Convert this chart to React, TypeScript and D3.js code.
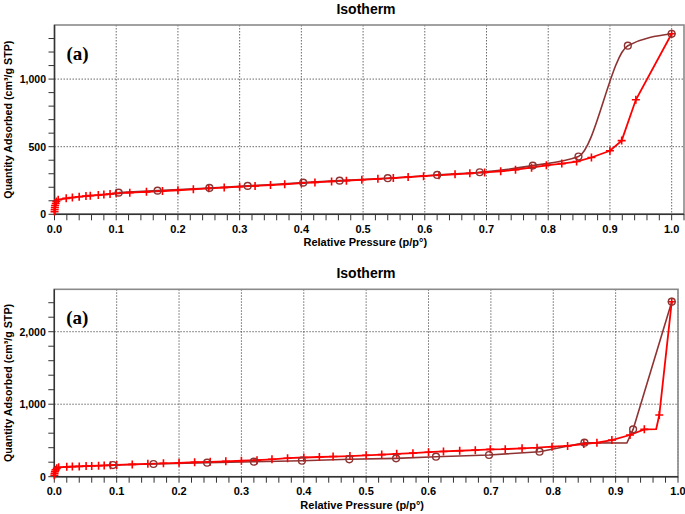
import React from "react";
import * as d3 from "d3";

const W = 685;
const H = 514;
const FONT = "'Liberation Sans', Arial, sans-serif";
const SERIF = "'Liberation Serif', 'Times New Roman', Times, serif";
const RED = "#ff0000";
const BROWN = "#8e3232";

// x tick labels shared by both panels
const xTickValues = [0, 0.1, 0.2, 0.3, 0.4, 0.5, 0.6, 0.7, 0.8, 0.9, 1.0];

// panel 1
const p1YTicks = [0, 500, 1000];
const p1AdsP = [0.0001, 0.0003, 0.0006, 0.001, 0.002, 0.003, 0.006, 0.019, 0.029, 0.04, 0.051, 0.058, 0.071, 0.08, 0.09, 0.1, 0.122, 0.149, 0.175, 0.2, 0.225, 0.25, 0.275, 0.3, 0.325, 0.35, 0.373, 0.4, 0.422, 0.449, 0.473, 0.498, 0.524, 0.549, 0.573, 0.598, 0.623, 0.649, 0.673, 0.697, 0.723, 0.747, 0.773, 0.797, 0.822, 0.846, 0.87, 0.9, 0.919, 0.942, 1.0];
const p1AdsQ = [20, 35, 50, 65, 80, 95, 108, 118, 124, 130, 135, 138, 142, 146, 150, 155, 160, 166, 172, 178, 185, 192, 198, 204, 210, 216, 222, 230, 236, 243, 249, 255, 262, 268, 275, 282, 289, 296, 303, 310, 318, 330, 345, 362, 375, 390, 420, 470, 545, 847, 1335];
const p1DesP = [0.104, 0.167, 0.251, 0.313, 0.403, 0.462, 0.54, 0.62, 0.689, 0.775, 0.849, 0.929, 1.0];
const p1DesQ = [160, 175, 195, 210, 234, 249, 267, 291, 311, 360, 427, 1247, 1335];

// panel 2
const p2YTicks = [0, 1000, 2000];
const p2AdsP = [0.0001, 0.0004, 0.001, 0.002, 0.004, 0.007, 0.02, 0.029, 0.04, 0.051, 0.06, 0.071, 0.08, 0.09, 0.1, 0.125, 0.15, 0.175, 0.2, 0.225, 0.25, 0.275, 0.3, 0.325, 0.349, 0.374, 0.4, 0.425, 0.447, 0.474, 0.5, 0.525, 0.549, 0.575, 0.6, 0.624, 0.65, 0.675, 0.699, 0.723, 0.75, 0.774, 0.798, 0.823, 0.849, 0.87, 0.894, 0.923, 0.946, 0.965, 0.97, 0.99];
const p2AdsQ = [20, 45, 70, 95, 115, 130, 136, 139, 142, 146, 149, 152, 155, 158, 162, 170, 177, 185, 192, 199, 205, 212, 220, 228, 240, 255, 265, 272, 278, 285, 295, 305, 315, 325, 338, 348, 358, 366, 377, 380, 391, 400, 414, 425, 451, 469, 506, 575, 653, 655, 851, 2414];
const p2AdsUnmarked = [0.965];
const p2DesP = [0.094, 0.159, 0.245, 0.32, 0.397, 0.473, 0.548, 0.612, 0.697, 0.778, 0.85, 0.918, 0.928, 0.99];
const p2DesQ = [161, 175, 193, 207, 221, 240, 253, 276, 299, 345, 469, 465, 653, 2414];
const p2DesUnmarked = [0.918];

type PanelProps = {
  top: number;
  bottom: number;
  left: number;
  right: number;
  xMax: number;
  yMax: number;
  yTicks: number[];
  yMinorStep: number;
  adsP: number[];
  adsQ: number[];
  desP: number[];
  desQ: number[];
  adsUnmarked?: number[];
  desUnmarked?: number[];
  smoothDes: boolean;
};

function Panel(props: PanelProps) {
  const { top, bottom, left, right, xMax, yMax, yTicks, yMinorStep } = props;
  const x = d3.scaleLinear().domain([0, xMax]).range([left, right]);
  const y = d3.scaleLinear().domain([0, yMax]).range([bottom, top]);

  const xMinor = d3.range(0, xMax + 1e-9, 0.02);
  const yMinor = d3.range(0, yMax, yMinorStep);

  const ads = props.adsP.map((p, i) => [p, props.adsQ[i]] as [number, number]);
  const des = props.desP.map((p, i) => [p, props.desQ[i]] as [number, number]);

  const adsLine = d3
    .line<[number, number]>()
    .x((d) => x(d[0]))
    .y((d) => y(d[1]));
  const desLine = d3
    .line<[number, number]>()
    .x((d) => x(d[0]))
    .y((d) => y(d[1]))
    .curve(props.smoothDes ? d3.curveMonotoneX : d3.curveLinear);

  const adsMarks = ads.filter((d) => !(props.adsUnmarked || []).includes(d[0]));
  const desMarks = des.filter((d) => !(props.desUnmarked || []).includes(d[0]));

  const midY = (top + bottom) / 2;
  const midX = (left + right) / 2;

  return (
    <g>
      <text x={366} y={top - 11} textAnchor="middle" fontFamily={FONT} fontWeight="bold" fontSize={14}>
        Isotherm
      </text>

      {/* grid */}
      {xTickValues.slice(1).map((t) => (
        <line key={"gx" + t} x1={x(t)} x2={x(t)} y1={top} y2={bottom} stroke="#444" strokeWidth={0.8} strokeDasharray="1.5,1.5" />
      ))}
      {yTicks.slice(1).map((t) => (
        <line key={"gy" + t} x1={left} x2={right} y1={y(t)} y2={y(t)} stroke="#444" strokeWidth={0.8} strokeDasharray="1.5,1.5" />
      ))}

      {/* frame */}
      <rect x={left} y={top} width={right - left} height={bottom - top} fill="none" stroke="#8a8a8a" strokeWidth={1.6} />
      <line x1={left} x2={left} y1={top} y2={bottom} stroke="#333" strokeWidth={1.4} />
      <line x1={left} x2={right} y1={bottom} y2={bottom} stroke="#333" strokeWidth={1.4} />

      {/* ticks */}
      {xMinor.map((t) => (
        <line key={"tx" + t} x1={x(t)} x2={x(t)} y1={bottom} y2={bottom + 6} stroke="#333" strokeWidth={1} />
      ))}
      {yMinor.map((t) => (
        <line key={"ty" + t} x1={left - 6} x2={left} y1={y(t)} y2={y(t)} stroke="#333" strokeWidth={1} />
      ))}

      {xTickValues.map((t) => (
        <text key={"lx" + t} x={x(t)} y={bottom + 18.5} textAnchor="middle" fontFamily={FONT} fontWeight="bold" fontSize={11}>
          {d3.format(".1f")(t)}
        </text>
      ))}
      {yTicks.map((t) => (
        <text key={"ly" + t} x={left - 8.5} y={y(t) + 4} textAnchor="end" fontFamily={FONT} fontWeight="bold" fontSize={10.5}>
          {d3.format(",")(t)}
        </text>
      ))}

      <text x={midX - 4} y={bottom + 32} textAnchor="middle" fontFamily={FONT} fontWeight="bold" fontSize={11}>
        Relative Pressure (p/p°)
      </text>
      <text
        transform={`translate(12,${midY}) rotate(-90)`}
        textAnchor="middle"
        fontFamily={FONT}
        fontWeight="bold"
        fontSize={10.7}
      >
        Quantity Adsorbed (cm³/g STP)
      </text>

      <text x={left + 12} y={top + 35} fontFamily={SERIF} fontWeight="bold" fontSize={19}>
        (a)
      </text>

      {/* series */}
      <path d={desLine(des) || ""} fill="none" stroke={BROWN} strokeWidth={1.6} />
      <path d={adsLine(ads) || ""} fill="none" stroke={RED} strokeWidth={1.8} />
      {adsMarks.map((d, i) => (
        <path
          key={"ma" + i}
          d={`M${x(d[0]) - 4},${y(d[1])}H${x(d[0]) + 4}M${x(d[0])},${y(d[1]) - 4}V${y(d[1]) + 4}`}
          stroke={RED}
          strokeWidth={1.6}
          fill="none"
        />
      ))}
      {desMarks.map((d, i) => (
        <circle key={"md" + i} cx={x(d[0])} cy={y(d[1])} r={3.4} fill="none" stroke={BROWN} strokeWidth={1.4} />
      ))}
    </g>
  );
}

export default function App() {
  return (
    <svg width={W} height={H} style={{ position: "absolute", left: 0, top: 0, background: "#fff" }}>
      <Panel
        top={25}
        bottom={214.3}
        left={54.5}
        right={684}
        xMax={1.02}
        yMax={1400}
        yTicks={p1YTicks}
        yMinorStep={100}
        adsP={p1AdsP}
        adsQ={p1AdsQ}
        desP={p1DesP}
        desQ={p1DesQ}
        smoothDes={true}
      />
      <Panel
        top={289.3}
        bottom={476.7}
        left={54.3}
        right={678}
        xMax={1.0}
        yMax={2585}
        yTicks={p2YTicks}
        yMinorStep={200}
        adsP={p2AdsP}
        adsQ={p2AdsQ}
        desP={p2DesP}
        desQ={p2DesQ}
        adsUnmarked={p2AdsUnmarked}
        desUnmarked={p2DesUnmarked}
        smoothDes={false}
      />
    </svg>
  );
}
